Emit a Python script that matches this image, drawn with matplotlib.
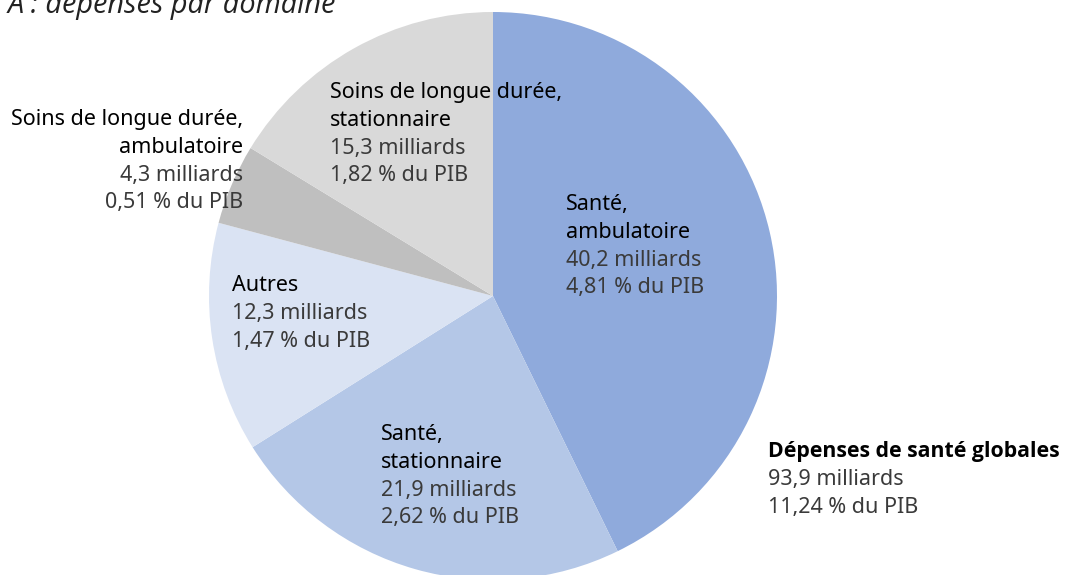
import matplotlib.pyplot as plt

plt.rcParams['font.family'] = ['Noto Sans', 'DejaVu Sans']

W, H = 1076, 575

# slices, clockwise from the top
names = ['Santé,\nambulatoire', 'Santé,\nstationnaire', 'Autres',
         'Soins de longue durée,\nambulatoire', 'Soins de longue durée,\nstationnaire']
milliards = [40.2, 21.9, 12.3, 4.3, 15.3]
pib = [4.81, 2.62, 1.47, 0.51, 1.82]
colors = ['#8faadc', '#b4c7e7', '#dae3f3', '#bfbfbf', '#d9d9d9']

total_milliards = 93.9
total_pib = 11.24

# label anchors (pixels, top-left origin) and alignment
label_pos = [(566, 210, 'left'), (381, 440, 'left'), (232, 291, 'left'),
             (243, 125, 'right'), (330, 98, 'left')]


def fr(v, nd):
    return f'{v:.{nd}f}'.replace('.', ',')


fig = plt.figure(figsize=(W / 100, H / 100), dpi=100)
ax = fig.add_axes([0, 0, 1, 1])

ax.pie(milliards, colors=colors, startangle=90, counterclock=False,
       center=(493, H - 296), radius=284, frame=True,
       wedgeprops=dict(linewidth=0))
ax.set_xlim(0, W)
ax.set_ylim(0, H)
ax.set_aspect('equal')
ax.axis('off')

fs = 15.5
step = 27.8
for name, m, p, (x, y, ha) in zip(names, milliards, pib, label_pos):
    lines = name.split('\n')
    for i, ln in enumerate(lines):
        ax.text(x, H - (y + i * step), ln, fontsize=fs, color='black',
                ha=ha, va='baseline')
    n = len(lines)
    ax.text(x, H - (y + n * step), fr(m, 1) + ' milliards', fontsize=fs,
            color='#3a3a3a', ha=ha, va='baseline')
    ax.text(x, H - (y + (n + 1) * step), fr(p, 2) + ' % du PIB', fontsize=fs,
            color='#3a3a3a', ha=ha, va='baseline')

ax.text(768, H - 457, 'Dépenses de santé globales', fontsize=15.3,
        fontweight='bold', family=['Open Sans', 'DejaVu Sans'],
        color='black', va='baseline')
ax.text(768, H - 485, fr(total_milliards, 1) + ' milliards', fontsize=fs,
        color='#3a3a3a', va='baseline')
ax.text(768, H - 513, fr(total_pib, 2) + ' % du PIB', fontsize=fs,
        color='#3a3a3a', va='baseline')

ax.text(8, H - 13, 'A : dépenses par domaine', fontsize=20.8, style='italic',
        family=['Open Sans', 'DejaVu Sans'], color='#222222', va='baseline')

fig.savefig('out.png', dpi=100)
